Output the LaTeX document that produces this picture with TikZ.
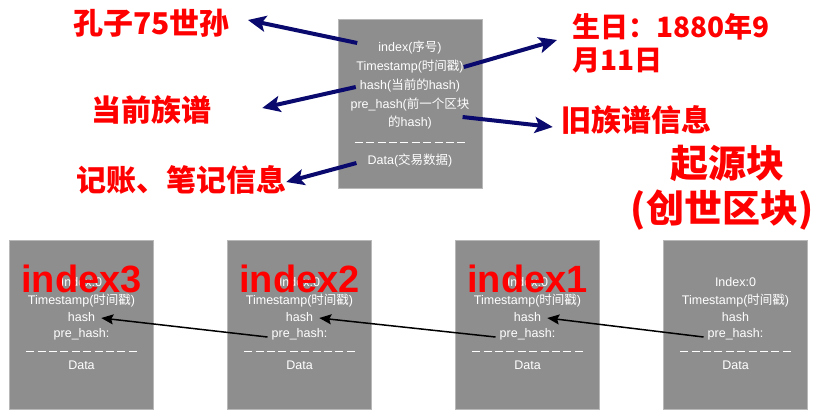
\documentclass[tikz,border=0pt]{standalone}
\usepackage{fontspec}
\setmainfont{Liberation Sans}
\newfontfamily\cjk{Noto Sans CJK SC}
\usetikzlibrary{arrows.meta}
\definecolor{blkgray}{HTML}{8E8E8E}
\definecolor{blkedge}{HTML}{B8B8B8}
\definecolor{arrnavy}{HTML}{0A0A6E}
\definecolor{labred}{HTML}{FF0000}
\newcommand{\zh}[1]{{\cjk #1}}
\newcommand{\dashrow}{\rule[2.8pt]{8pt}{0.9pt}\foreach \k in {2,...,10}{\hspace{3.4pt}\rule[2.8pt]{8pt}{0.9pt}}}

\begin{document}
\begin{tikzpicture}[x=1pt,y=-1pt,
    blk/.style={rectangle, fill=blkgray, draw=blkedge, line width=0.6pt,
                minimum width=144pt, minimum height=169pt},
    ln/.style={text=white, inner sep=0pt, text height=9pt, text depth=2.5pt,
               font=\fontsize{12.5}{15}\selectfont},
    zhlab/.style={text=labred, inner sep=0pt, font=\cjk\bfseries\fontsize{30}{34}\selectfont},
    biglab/.style={text=labred, inner sep=0pt, font=\cjk\bfseries\fontsize{38}{44}\selectfont},
    idxlab/.style={text=labred, inner sep=0pt, font=\bfseries\fontsize{38}{44}\selectfont},
    navy/.style={draw=arrnavy, line width=4pt, -{Stealth[length=18pt,width=16pt,inset=4pt]}},
    link/.style={draw=black, line width=1.5pt, -{Stealth[length=12pt,width=10pt,inset=2pt]}}]

  \useasboundingbox (0,0) rectangle (827,418);

  % ================= top: one block, what each field stands for =================

  \node[blk] (top) at (410,103.5) {};
  \node[ln] (t-idx)  at (410,48)  {index(\zh{序号})};
  \node[ln] (t-ts)   at (410,67)  {Timestamp(\zh{时间戳})};
  \node[ln] (t-hash) at (410,86)  {hash(\zh{当前的}hash)};
  \node[ln] (t-pre1) at (410,105) {pre\_hash(\zh{前一个区块}};
  \node[ln] (t-pre2) at (410,123) {\zh{的}hash)};
  \node[ln] (t-dash) at (410,142) {\dashrow};
  \node[ln] (t-data) at (410,161) {Data(\zh{交易数据})};

  % ---- the meanings, in red ----
  \node[zhlab, anchor=west] (kz) at (73,23) {孔子75世孙};
  \node[zhlab] (dq) at (151,110) {当前族谱};
  \node[zhlab] (jz) at (181,180) {记账、笔记信息};
  \node[zhlab, anchor=west, align=left, font=\cjk\bfseries\fontsize{28}{33}\selectfont]
    (sr) at (572,43.5) {生日：1880年9\\月11日};
  \node[zhlab] (jp) at (636,120) {旧族谱信息};
  \node[biglab] (qy) at (727,163) {起源块};
  \node[biglab] (cs) at (722,210) {(创世区块)};

  \draw[navy] ([shift={(-21,-5)}]t-idx.west) -- ([shift={(18,-3)}]kz.east);
  \draw[navy] ([shift={(-4,1)}]t-hash.west) -- ([shift={(51,-2)}]dq.east);
  \draw[navy] ([shift={(-11,2)}]t-data.west) -- ([shift={(0,2)}]jz.east);
  \draw[navy] (t-ts.east) -- ([shift={(-15,-3.5)}]sr.west);
  \draw[navy] ([shift={(-7,12)}]t-pre1.east) -- ([shift={(-8,7)}]jp.west);

  % ================= bottom: the chain, genesis block on the right =================

  \foreach \n/\cx in {a/81.5, b/299.5, c/527.5, d/735.5}{
    \node[blk] (\n) at (\cx,324.5) {};
    \node[ln] (\n-idx)  at (\cx,283) {Index:0};
    \node[ln] (\n-ts)   at (\cx,301) {Timestamp(\zh{时间戳})};
    \node[ln] (\n-hash) at (\cx,318) {hash};
    \node[ln] (\n-pre)  at (\cx,334) {pre\_hash:};
    \node[ln] (\n-dash) at (\cx,351) {\dashrow};
    \node[ln] (\n-data) at (\cx,366) {Data};}

  % ---- each pre_hash points back at the hash of the block before ----
  \draw[link] ([shift={(-4,3)}]b-pre.west) -- ([xshift=6pt]a-hash.east);
  \draw[link] ([shift={(-4,3)}]c-pre.west) -- ([xshift=6pt]b-hash.east);
  \draw[link] ([shift={(-4,3)}]d-pre.west) -- ([xshift=6pt]c-hash.east);

  % ---- big red numbers laid over the index field ----
  \foreach \n/\cx/\lab in {a/81.5/index3, b/299.5/index2, c/527.5/index1}{
    \node[idxlab, anchor=base] (\n-lab) at (\cx,292) {\lab};}
\end{tikzpicture}
\end{document}
